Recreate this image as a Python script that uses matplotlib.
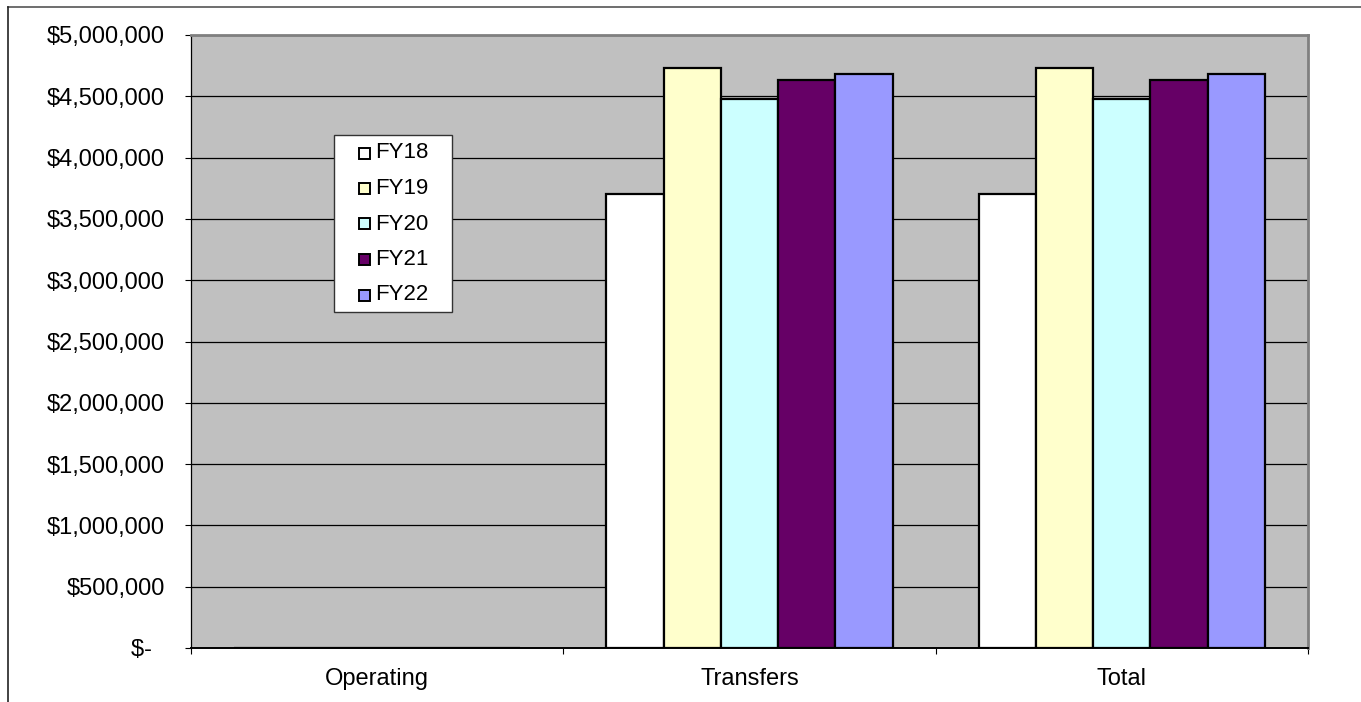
import matplotlib
matplotlib.use("Agg")
import matplotlib.pyplot as plt
from matplotlib.patches import Rectangle
from matplotlib.lines import Line2D
from matplotlib.ticker import FuncFormatter, MultipleLocator

plt.rcParams['font.family'] = ['Liberation Sans', 'DejaVu Sans']

categories = ["Operating", "Transfers", "Total"]
series_names = ["FY18", "FY19", "FY20", "FY21", "FY22"]
fy18 = [0, 3700000, 3700000]
fy19 = [0, 4730000, 4730000]
fy20 = [0, 4475000, 4475000]
fy21 = [0, 4635000, 4635000]
fy22 = [0, 4680000, 4680000]
series_values = [fy18, fy19, fy20, fy21, fy22]
colors = ["#FFFFFF", "#FFFFCC", "#CCFFFF", "#660066", "#9999FF"]

W, H = 1361, 702
fig = plt.figure(figsize=(W / 100, H / 100), dpi=100)
fig.patch.set_facecolor("white")


def fx(x):
    return x / W


def fy(y):
    return 1 - y / H


ax = fig.add_axes([fx(191), fy(648), fx(1308) - fx(191), fy(35) - fy(648)])
ax.set_facecolor("#C0C0C0")

n = len(series_names)
bar_w = 1 / (n + 1.5)
xs = range(len(categories))
for i, (vals, col) in enumerate(zip(series_values, colors)):
    offs = (i - (n - 1) / 2) * bar_w
    ax.bar([x + offs for x in xs], vals, width=bar_w, color=col,
           edgecolor="black", linewidth=1.6, zorder=3)

ax.set_xlim(-0.5, len(categories) - 0.5)
ax.set_ylim(0, 5000000)
ax.yaxis.set_major_locator(MultipleLocator(500000))


def money(v, pos):
    if v == 0:
        return "$-  "
    return "${:,.0f}".format(v)


ax.yaxis.set_major_formatter(FuncFormatter(money))
ax.grid(axis="y", color="black", linewidth=0.9, zorder=1)
ax.set_axisbelow(True)

ax.set_xticks(list(xs))
ax.set_xticklabels(categories)
ax.set_xticks([-0.5, 0.5, 1.5, 2.5], minor=True)
ax.tick_params(axis="x", which="major", length=0, pad=14.5, labelsize=17)
ax.tick_params(axis="x", which="minor", length=4.3, width=0.8, direction="out")
ax.tick_params(axis="y", length=4.3, width=0.8, direction="out", pad=14.5, labelsize=17)

for side in ("top", "right"):
    ax.spines[side].set_color("#808080")
    ax.spines[side].set_linewidth(2)
ax.spines["left"].set_color("black")
ax.spines["left"].set_linewidth(0.9)
ax.spines["bottom"].set_color("black")
ax.spines["bottom"].set_linewidth(1.4)

# chart-area frame (top and left edges)
fig.add_artist(Line2D([fx(8), 1], [fy(7), fy(7)], color="#555555", linewidth=1.2))
fig.add_artist(Line2D([fx(8), fx(8)], [fy(7), 0], color="#222222", linewidth=1.2))

# legend box
lx0, ly0, lx1, ly1 = 334, 135, 452, 312
fig.add_artist(Rectangle((fx(lx0), fy(ly1)), fx(lx1) - fx(lx0), fy(ly0) - fy(ly1),
                         facecolor="white", edgecolor="#333333", linewidth=1.0,
                         transform=fig.transFigure, zorder=5))
row_y = [153, 188.5, 224, 259.5, 295]
sq = 11
for name, col, ry in zip(series_names, colors, row_y):
    fig.add_artist(Rectangle((fx(359), fy(ry + sq / 2)), fx(sq), fy(0) - fy(sq),
                             facecolor=col, edgecolor="black", linewidth=1.4,
                             transform=fig.transFigure, zorder=6))
    fig.text(fx(375), fy(ry), name, fontsize=16, va="center", ha="left", zorder=7)

fig.savefig("out.png", dpi=100)
